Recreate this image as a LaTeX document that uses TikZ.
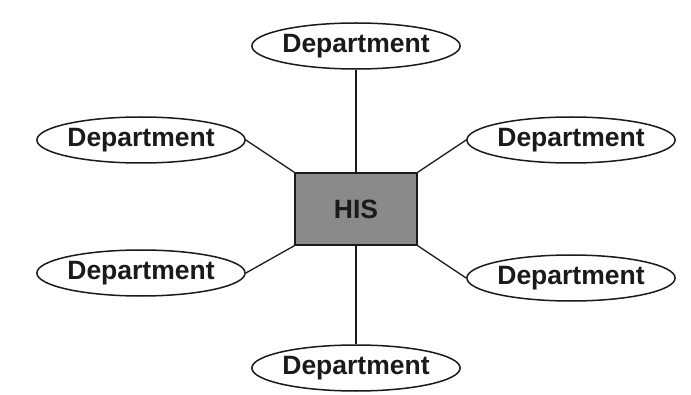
\documentclass[tikz,border=0pt]{standalone}
\usepackage{fontspec}
\setmainfont{Liberation Sans}
\usetikzlibrary{shapes.geometric}
\definecolor{boxgray}{HTML}{8A8A8A}
\definecolor{ink}{HTML}{1A1A1A}
\begin{document}
\begin{tikzpicture}[x=1pt,y=1pt,
  dept/.style={ellipse, draw=ink, line width=1.5pt, minimum width=196pt,
    minimum height=46pt, inner sep=0pt,
    font=\bfseries\fontsize{26.5}{30}\selectfont, text=ink},
  hub/.style={rectangle, draw=ink, line width=1.6pt, fill=boxgray,
    minimum width=122pt, minimum height=72pt,
    font=\bfseries\fontsize{26.5}{30}\selectfont, text=ink},
  link/.style={draw=ink, line width=1.3pt}]
  \useasboundingbox (0,0) rectangle (691,394);
  \node[hub] (his) at (356,185) {HIS};
  \node[dept] (top) at (356,348) {Department};
  \node[dept] (ul) at (141,254) {Department};
  \node[dept] (ur) at (571,254) {Department};
  \node[dept] (ll) at (141,121) {Department};
  \node[dept] (lr) at (571,116) {Department};
  \node[dept] (bot) at (356,26) {Department};
  \draw[link] (top) -- (his.north);
  \draw[link] (bot) -- (his.south);
  \draw[link] (ul.east) -- (his.north west);
  \draw[link] (ur.west) -- (his.north east);
  \draw[link] (ll.east) -- (his.south west);
  \draw[link] (lr.west) -- (his.south east);
\end{tikzpicture}
\end{document}
